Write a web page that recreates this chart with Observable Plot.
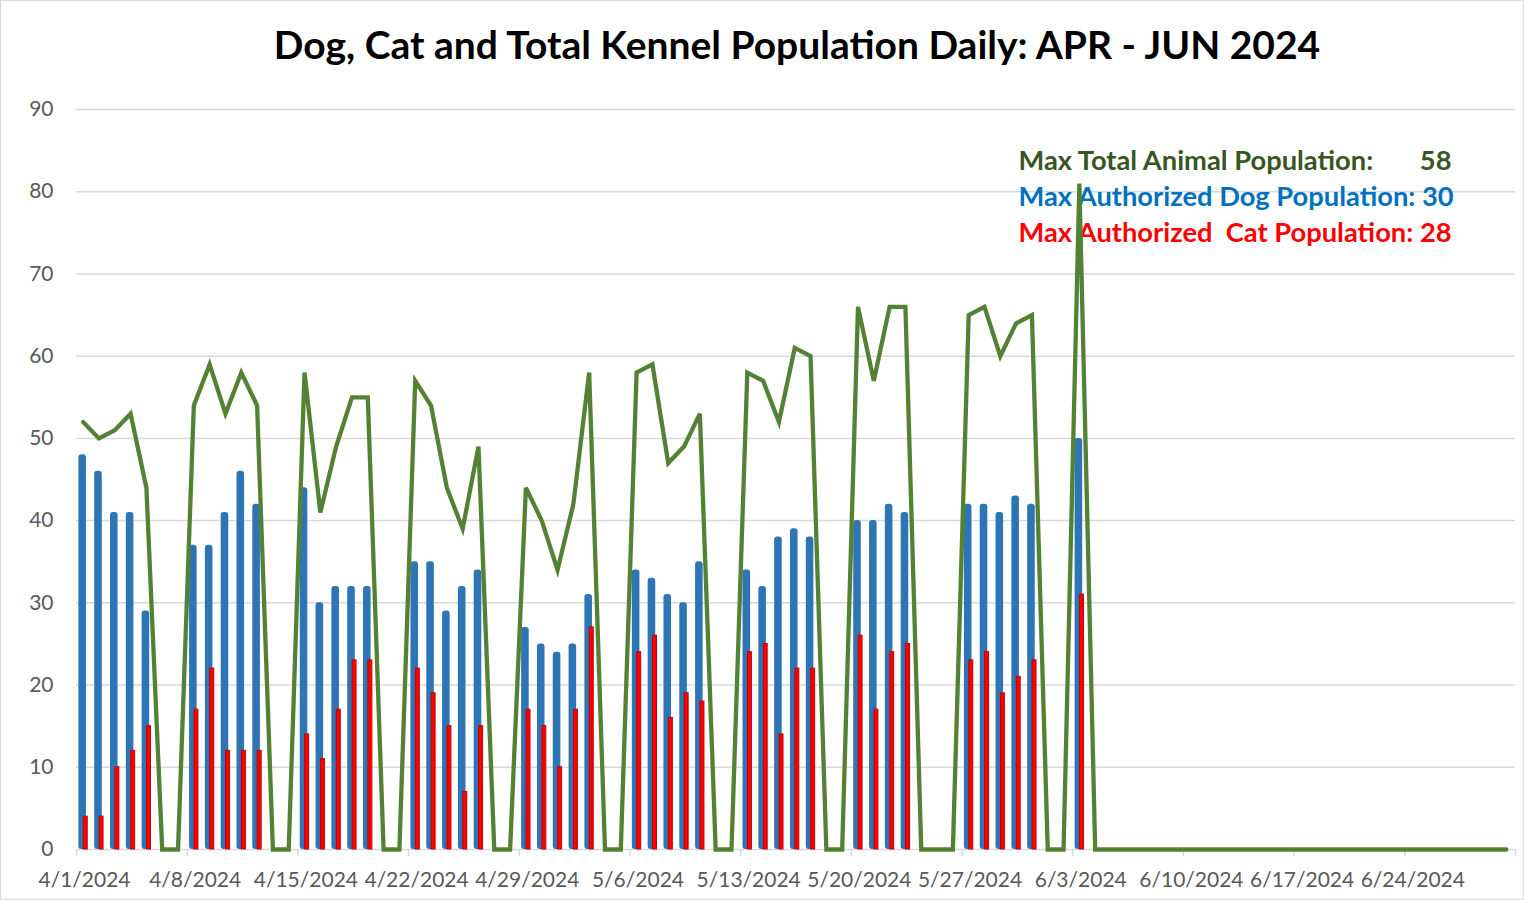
<!DOCTYPE html>
<html><head><meta charset="utf-8">
<script src="https://cdn.jsdelivr.net/npm/d3@7"></script>
<script src="https://cdn.jsdelivr.net/npm/@observablehq/plot@0.6"></script>
<style>
body{margin:0;background:#fff;}
#wrap{position:relative;width:1524px;height:900px;outline:1px solid #d9d9d9;outline-offset:-1px;font-family:Lato,"Open Sans",sans-serif;overflow:hidden;}
#title{height:80px;line-height:88px;text-align:center;padding-left:70px;font-weight:bold;font-size:39px;color:#000;box-sizing:border-box;white-space:nowrap;}
#chart svg{display:block;}
</style></head><body>
<div id="wrap"><div id="title">Dog, Cat and Total Kennel Population Daily: APR - JUN 2024</div><div id="chart"></div></div>
<script>
const reportDates = [
  "2024-04-01","2024-04-02","2024-04-03","2024-04-04","2024-04-05",
  "2024-04-08","2024-04-09","2024-04-10","2024-04-11","2024-04-12",
  "2024-04-15","2024-04-16","2024-04-17","2024-04-18","2024-04-19",
  "2024-04-22","2024-04-23","2024-04-24","2024-04-25","2024-04-26",
  "2024-04-29","2024-04-30","2024-05-01","2024-05-02","2024-05-03",
  "2024-05-06","2024-05-07","2024-05-08","2024-05-09","2024-05-10",
  "2024-05-13","2024-05-14","2024-05-15","2024-05-16","2024-05-17",
  "2024-05-20","2024-05-21","2024-05-22","2024-05-23",
  "2024-05-27","2024-05-28","2024-05-29","2024-05-30","2024-05-31",
  "2024-06-03"
];
const dogs = [48,46,41,41,29, 37,37,41,46,42, 44,30,32,32,32, 35,35,29,32,34, 27,25,24,25,31, 34,33,31,30,35, 34,32,38,39,38, 40,40,42,41, 42,42,41,43,42, 50];
const cats = [4,4,10,12,15, 17,22,12,12,12, 14,11,17,23,23, 22,19,15,7,15, 17,15,10,17,27, 24,26,16,19,18, 24,25,14,22,22, 26,17,24,25, 23,24,19,21,23, 31];
const totals = [52,50,51,53,44, 54,59,53,58,54, 58,41,49,55,55, 57,54,44,39,49, 44,40,34,42,58, 58,59,47,49,53, 58,57,52,61,60, 66,57,66,66, 65,66,60,64,65, 81];
const periodStart = "2024-04-01";
const periodEnd = "2024-07-01";
const xTickLabels = ["4/1/2024","4/8/2024","4/15/2024","4/22/2024","4/29/2024","5/6/2024","5/13/2024","5/20/2024","5/27/2024","6/3/2024","6/10/2024","6/17/2024","6/24/2024"];
const yTicks = [0,10,20,30,40,50,60,70,80,90];
const noteLabels = ["Max Total Animal Population:","Max Authorized Dog Population: 30","Max Authorized  Cat Population: 28"];
const noteTotalValue = "58";

const parseISO = d3.utcParse("%Y-%m-%d");
const parseMDY = d3.utcParse("%m/%d/%Y");
const DAY = 864e5;
const shift = (d, f) => new Date(+d + f * DAY);
const start = parseISO(periodStart), end = parseISO(periodEnd);

const rows = reportDates.map((s, i) => ({date: parseISO(s), dog: dogs[i], cat: cats[i], total: totals[i]}));
const totalByDay = new Map(rows.map(r => [+r.date, r.total]));
const lineRows = d3.utcDay.range(start, end).map(d => ({date: d, total: totalByDay.get(+d) ?? 0}));

const tickDates = xTickLabels.map(parseMDY);
const labelMap = new Map(tickDates.map((d, i) => [+d, xTickLabels[i]]));

const noteStyle = {frameAnchor: "top-left", textAnchor: "start", lineAnchor: "middle", fontSize: 27.3, fontWeight: "bold", dx: 942};

const chart = Plot.plot({
  width: 1524, height: 820,
  marginTop: 29, marginBottom: 51, marginLeft: 76, marginRight: 9,
  style: {fontFamily: "Lato, 'Open Sans', sans-serif", fontSize: "21px", color: "#595959", background: "transparent"},
  x: {type: "utc", domain: [start, end]},
  y: {domain: [0, 90]},
  marks: [
    Plot.gridY(yTicks.slice(1), {stroke: "#d9d9d9", strokeOpacity: 1, strokeWidth: 1.5}),
    Plot.axisY(yTicks, {tickSize: 0, tickPadding: 23, label: null, fill: "#595959"}),
    Plot.axisX(tickDates.concat([end]), {tickSize: 7, tickFormat: () => "", stroke: "#d9d9d9", strokeWidth: 1.5, label: null}),
    Plot.axisX(tickDates, {tickSize: 0, tickPadding: 23, dx: 8, tickFormat: d => labelMap.get(+d), label: null, fill: "#595959"}),
    Plot.ruleY([0], {stroke: "#d9d9d9", strokeWidth: 1.5}),
    Plot.text([noteLabels[0]], {...noteStyle, dy: 52, fill: "#375623"}),
    Plot.text([noteTotalValue], {frameAnchor: "top-right", textAnchor: "end", lineAnchor: "middle", fontSize: 27.3, fontWeight: "bold", dx: -64, dy: 52, fill: "#375623"}),
    Plot.text([noteLabels[1]], {...noteStyle, dy: 88, fill: "#0070C0"}),
    Plot.text([noteLabels[2]], {...noteStyle, dy: 124, fill: "#FF0000"}),
    Plot.rectY(rows, {x1: d => shift(d.date, 0.15), x2: d => shift(d.date, 0.63), y1: 0, y2: "dog", fill: "#2E75B6", rx: 3}),
    Plot.rectY(rows, {x1: d => shift(d.date, 0.46), x2: d => shift(d.date, 0.71), y1: 0, y2: "cat", fill: "#FF0000", stroke: "#C00000", strokeWidth: 1}),
    Plot.line(lineRows, {x: d => shift(d.date, 0.42), y: "total", stroke: "#548235", strokeWidth: 4.3, strokeLinejoin: "miter", strokeMiterlimit: 4})
  ]
});
document.getElementById("chart").appendChild(chart);
</script>
</body></html>
